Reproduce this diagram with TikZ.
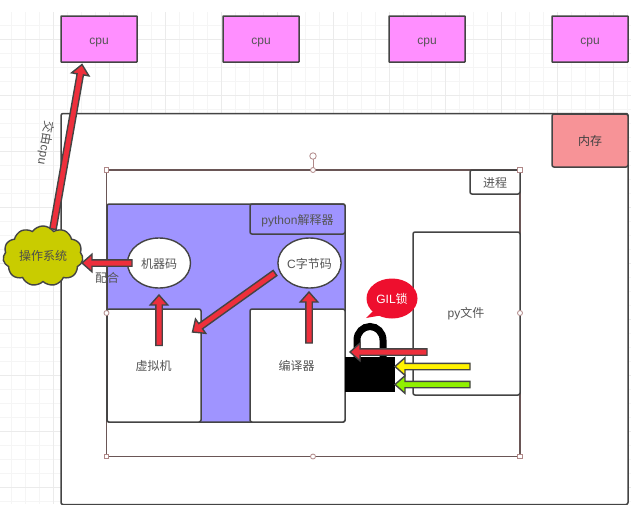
\documentclass[tikz,border=0pt]{standalone}
\usepackage{fontspec}
\setmainfont{Liberation Sans}
\newfontfamily\cjk{Noto Sans CJK SC}
\usetikzlibrary{calc,shapes.geometric,shapes.symbols}
\definecolor{ink}{HTML}{444444}
\definecolor{txt}{HTML}{555555}
\definecolor{cpufill}{HTML}{FF8FFF}
\definecolor{memfill}{HTML}{F79397}
\definecolor{purple}{HTML}{9F94FF}
\definecolor{olive}{HTML}{C9CC00}
\definecolor{arrowred}{HTML}{EE2F3C}
\definecolor{hand}{HTML}{B08888}
\definecolor{seln}{HTML}{6A5656}
\definecolor{gilred}{HTML}{EE0F2E}
\definecolor{arrowgreen}{HTML}{90F000}
\newcommand{\lowered}[1]{\raisebox{0pt}[10.4pt][0pt]{#1}}
\newcommand{\lowcpu}{\raisebox{0pt}[10pt][0pt]{cpu}}
\tikzset{
  x=1pt,y=-1pt,
  every node/.style={font=\fontsize{12}{14}\selectfont,text=txt,inner sep=0pt,outer sep=0pt},
  box/.style={draw=ink,line width=1.5pt,rounded corners=2pt,anchor=north west},
  cpubox/.style={box,rounded corners=0.5pt,fill=cpufill,minimum width=76pt,minimum height=46pt},
  whitebox/.style={box,fill=white},
  oval/.style={ellipse,draw=ink,line width=1.4pt,fill=white},
  handle/.style={draw=hand,line width=0.8pt,fill=white,minimum size=4.5pt,rectangle},
  roundhandle/.style={draw=hand,line width=0.8pt,fill=white,minimum size=5pt,circle},
}
% block arrow from #2 to #3 in colour #1
\newcommand{\blockarrow}[3]{%
  \coordinate (headbase) at ($(#3)!10pt!(#2)$);
  \draw[draw=ink,line width=1.4pt,fill=#1,line join=miter]
    ($(#2)!3.2pt!90:(#3)$) --
    ($(headbase)!3.2pt!90:(#3)$) --
    ($(headbase)!8.8pt!90:(#3)$) --
    (#3) --
    ($(headbase)!8.8pt!-90:(#3)$) --
    ($(headbase)!3.2pt!-90:(#3)$) --
    ($(#2)!3.2pt!-90:(#3)$) -- cycle;}
\begin{document}
\begin{tikzpicture}
\useasboundingbox (0,0) rectangle (631,504);
\fill[white] (0,0) rectangle (631,504);
% grid
\foreach \gx in {11,25,...,631} \draw[color=black!4,line width=.6pt] (\gx,12) -- (\gx,504);
\foreach \gy in {25,39,...,504} \draw[color=black!4,line width=.6pt] (0,\gy) -- (631,\gy);
\foreach \gx in {53,109,...,631} \draw[color=black!8,line width=.7pt] (\gx,12) -- (\gx,504);
\foreach \gy in {39,95,...,504} \draw[color=black!8,line width=.7pt] (0,\gy) -- (631,\gy);
% outer machine
\node[whitebox,minimum width=567pt,minimum height=391pt] (machine) at (61,113.5) {};
\node[box,fill=memfill,minimum width=76pt,minimum height=53pt,text=black!75] (mem) at (552,114) {\cjk 内存};
% cpus
\node[cpubox] (cpuA) at (61,16) {\lowcpu};
\node[cpubox] (cpuB) at (223,16) {\lowcpu};
\node[cpubox] (cpuC) at (389,16) {\lowcpu};
\node[cpubox] (cpuD) at (552,16) {\lowcpu};
% process frame
\node[draw=seln,line width=1.2pt,anchor=north west,minimum width=413.5pt,minimum height=286.5pt] (proc) at (106.5,170) {};
\node[whitebox,minimum width=50pt,minimum height=24pt] (proclabel) at (470,170) {\lowered{\cjk 进程}};
% interpreter
\node[box,fill=purple,minimum width=238pt,minimum height=218pt] (interp) at (107,204) {};
\node[box,fill=purple,minimum width=95pt,minimum height=30pt] (interplabel) at (250,204) {\lowered{python{\cjk 解释器}}};
\node[oval,minimum width=63pt,minimum height=50pt] (mcode) at (159,263) {\lowered{\cjk 机器码}};
\node[oval,minimum width=63pt,minimum height=50pt] (ccode) at (309.5,263) {\lowered{C{\cjk 字节码}}};
\node[whitebox,minimum width=94pt,minimum height=113pt] (vm) at (107,309) {};
\node at (153.5,366) {\cjk 虚拟机};
\node[whitebox,minimum width=95pt,minimum height=113pt] (comp) at (250,309) {};
\node at (296.5,366) {\cjk 编译器};
\node[whitebox,minimum width=107pt,minimum height=163pt] (py) at (413,232) {};
\node at (466,314) {py{\cjk 文件}};
% cloud
\node[cloud,cloud puffs=11,cloud puff arc=110,aspect=1.3,draw=ink,line width=1.4pt,fill=olive,minimum width=80pt,minimum height=60pt,text=black!70] (os) at (43,256) {\cjk 操作系统};
% lock
\node[fill=black,minimum width=50pt,minimum height=35pt,anchor=north west] (lockbody) at (345,357) {};
\draw[line width=7pt,color=black] (357,358) -- (357,340) arc[start angle=180,end angle=0,x radius=13pt,y radius=13.5pt] -- (383,358);
% GIL bubble
\coordinate (tail) at (366,318);
\fill[gilred] (tail) -- (376,308) -- (383,315) -- cycle;
\node[ellipse,fill=gilred,text=white,minimum width=51pt,minimum height=40pt] (gil) at (392,298.5) {\lowered{GIL{\cjk 锁}}};
% arrows
\coordinate (a1s) at (53,229);   \coordinate (a1e) at (82,64.5);
\coordinate (a2s) at (132,263);  \coordinate (a2e) at (82,263);
\coordinate (a3s) at (159,345.5);\coordinate (a3e) at (159,295);
\coordinate (a4s) at (275,273);  \coordinate (a4e) at (192.5,332);
\coordinate (a5s) at (309,343);  \coordinate (a5e) at (309,292);
\coordinate (a6s) at (427,352);  \coordinate (a6e) at (350,352);
\coordinate (a7s) at (470,366.5);\coordinate (a7e) at (395,366.5);
\coordinate (a8s) at (470,384.5);\coordinate (a8e) at (395,384.5);
\blockarrow{arrowred}{a1s}{a1e}
\blockarrow{arrowred}{a2s}{a2e}
\blockarrow{arrowred}{a3s}{a3e}
\blockarrow{arrowred}{a4s}{a4e}
\blockarrow{arrowred}{a5s}{a5e}
\blockarrow{arrowred}{a6s}{a6e}
\blockarrow{yellow}{a7s}{a7e}
\blockarrow{arrowgreen}{a8s}{a8e}
% labels
\node[rotate=-100] (handover) at (45.5,143) {{\cjk 交由}cpu};
\node (cooperate) at (107,278) {\cjk 配合};
% selection handles
\coordinate (rotknob) at (313,156);
\draw[draw=hand,line width=.8pt] (rotknob) -- (313,170);
\node[roundhandle,minimum size=6.5pt] at (rotknob) {};
\node[handle] at (106.5,170) {};
\node[handle] at (520,170) {};
\node[handle] at (106.5,456.5) {};
\node[handle] at (520,456.5) {};
\node[roundhandle] at (313,170) {};
\node[roundhandle] at (313,456.5) {};
\node[roundhandle] at (106.5,313) {};
\node[roundhandle] at (520,313) {};
\end{tikzpicture}
\end{document}
